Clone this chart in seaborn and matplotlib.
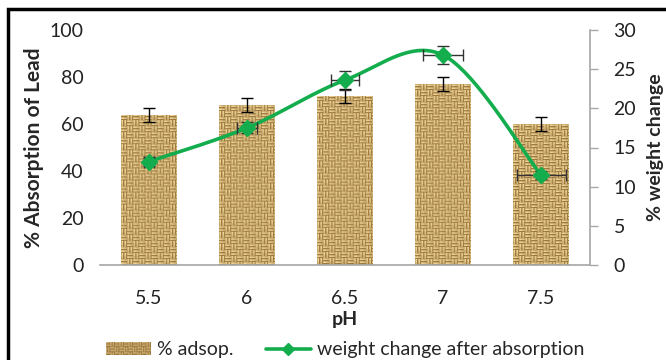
import numpy as np
import pandas as pd
import matplotlib
matplotlib.use("Agg")
import matplotlib.pyplot as plt
import seaborn as sns
from matplotlib.patches import Rectangle
from matplotlib.lines import Line2D
from matplotlib.legend_handler import HandlerBase
from matplotlib.image import BboxImage
from matplotlib.transforms import Bbox, TransformedBbox

# ---- data ----
ph = [5.5, 6.0, 6.5, 7.0, 7.5]
ph_labels = ["5.5", "6", "6.5", "7", "7.5"]
adsorption = [64, 68, 72, 77, 60]
adsorption_err = [3, 3, 3, 3, 3]
weight_change = [13.2, 17.5, 23.6, 26.8, 11.5]
weight_err_y = [0.6, 0.7, 1.2, 1.2, 0.5]
weight_err_x = [0.025, 0.05, 0.07, 0.1, 0.125]

GREEN = "#14ad4e"
AXIS_GREY = "#a6a6a6"
FS = 14

sns.set_theme(style="white")
plt.rcParams["font.family"] = ["Lato", "DejaVu Sans"]


def burlap(h, w, cell=6):
    """Basket-weave texture as an RGB array."""
    h, w = max(int(h), 2), max(int(w), 2)
    yy, xx = np.mgrid[0:h, 0:w]
    horiz = ((xx // cell + yy // cell) % 2) == 0
    s = np.where(horiz, yy % cell, xx % cell)
    along = np.where(horiz, xx % cell, yy % cell)
    shade = np.ones((h, w))
    shade[(s == cell // 2 - 1) | (s == cell - 1)] = 0.2
    shade[(s == 0) | (s == cell // 2)] = 0.72
    shade = shade * (0.85 + 0.15 * np.cos(np.pi * along / cell))
    light = np.array([240, 214, 152]) / 255.0
    dark = np.array([140, 102, 46]) / 255.0
    img = dark + (light - dark) * shade[..., None]
    return np.clip(img, 0, 1)


class TextureHandler(HandlerBase):
    def create_artists(self, legend, orig_handle, xdescent, ydescent,
                       width, height, fontsize, trans):
        bb = Bbox.from_bounds(-xdescent, -ydescent + height * 0.05, width, height * 0.9)
        img = BboxImage(TransformedBbox(bb, trans), interpolation="bilinear")
        img.set_data(burlap(10, 40, cell=4))
        return [img]


def catmull_rom(xs, ys, n=40):
    p = np.column_stack([xs, ys]).astype(float)
    p = np.vstack([p[0], p, p[-1]])
    out = []
    for i in range(1, len(p) - 2):
        p0, p1, p2, p3 = p[i - 1], p[i], p[i + 1], p[i + 2]
        m1 = (p2 - p0) / 2.0
        m2 = (p3 - p1) / 2.0
        t = np.linspace(0, 1, n)[:, None]
        h00 = 2 * t**3 - 3 * t**2 + 1
        h10 = t**3 - 2 * t**2 + t
        h01 = -2 * t**3 + 3 * t**2
        h11 = t**3 - t**2
        out.append(h00 * p1 + h10 * m1 + h01 * p2 + h11 * m2)
    c = np.vstack(out)
    return c[:, 0], c[:, 1]


fig = plt.figure(figsize=(6.66, 3.6), dpi=100)
ax = fig.add_axes([100 / 666, 1 - 265 / 360, 490 / 666, 235 / 360])

df = pd.DataFrame({"pH": ph, "adsorption": adsorption})
sns.barplot(data=df, x="pH", y="adsorption", native_scale=True, width=0.57,
            color="#d8c08a", saturation=1, errorbar=None, ax=ax, zorder=2)
ax.set_xlim(5.25, 7.75)
ax.set_ylim(0, 100)

# textured fill for each bar
for patch in list(ax.patches):
    patch.set_linewidth(0)
    x0, y0 = patch.get_x(), patch.get_y()
    x1, y1 = x0 + patch.get_width(), y0 + patch.get_height()
    (px0, py0), (px1, py1) = ax.transData.transform([(x0, y0), (x1, y1)])
    tex = burlap(abs(py1 - py0), abs(px1 - px0))
    im = ax.imshow(tex, extent=[x0, x1, y0, y1], aspect="auto",
                   interpolation="bilinear", zorder=2.5, origin="upper")
    im.set_clip_path(patch)

ax.errorbar(ph, adsorption, yerr=adsorption_err, fmt="none", ecolor="black",
            elinewidth=1, capsize=4, capthick=1, zorder=3)

ax.set_xlim(5.25, 7.75)
ax.set_ylim(0, 100)
ax.set_yticks(range(0, 101, 20))
ax.set_xticks(ph)
ax.set_xticklabels(ph_labels)
ax.tick_params(axis="both", length=0, labelsize=FS, colors="#222222")
ax.tick_params(axis="y", pad=12)
ax.tick_params(axis="x", pad=18)
ax.set_xlabel("pH", fontsize=FS, fontweight="bold", labelpad=3)
ax.set_ylabel("% Absorption of Lead", fontsize=15, fontweight="bold", labelpad=4)
for side in ["left", "top", "right"]:
    ax.spines[side].set_visible(False)
ax.spines["bottom"].set_color(AXIS_GREY)
ax.spines["bottom"].set_linewidth(1.2)

# secondary axis: weight change
ax2 = ax.twinx()
ax2.set_ylim(0, 30)
ax2.set_yticks(range(0, 31, 5))
sx, sy = catmull_rom(ph, weight_change)
sns.lineplot(x=sx, y=sy, color=GREEN, linewidth=2.6, sort=False,
             estimator=None, ax=ax2, zorder=4)
ax2.errorbar(ph, weight_change, xerr=weight_err_x, yerr=weight_err_y,
             fmt="D", color=GREEN, markersize=8, ecolor="#333333",
             elinewidth=1, capsize=4, capthick=1, zorder=5)
ax2.set_xlim(5.25, 7.75)
ax2.set_ylim(0, 30)
for side in ["left", "top", "bottom"]:
    ax2.spines[side].set_visible(False)
ax2.spines["right"].set_color(AXIS_GREY)
ax2.spines["right"].set_linewidth(1.2)
ax2.tick_params(axis="y", length=6, width=1, color=AXIS_GREY, direction="out",
                labelsize=FS, colors="#222222", pad=11)
ax2.tick_params(axis="y", color=AXIS_GREY)
ax2.set_ylabel("% weight change", fontsize=FS, fontweight="bold", labelpad=8)
ax2.grid(False)
ax.grid(False)

# legend
bar_handle = Rectangle((0, 0), 1, 1)
line_handle = Line2D([], [], color=GREEN, linewidth=2.6, marker="D", markersize=6)
fig.legend([bar_handle, line_handle], ["% adsop.", "weight change after absorption"],
           handler_map={Rectangle: TextureHandler()},
           loc="center", bbox_to_anchor=(345 / 666, 1 - 350 / 360), ncol=2,
           frameon=False, fontsize=FS, handlelength=2.3, handletextpad=0.3,
           columnspacing=1.7, borderpad=0)

# chart-area frame
fig.patches.append(Rectangle((8 / 666, -0.2), 1.5, 1.2 - 8.5 / 360,
                             transform=fig.transFigure, fill=False,
                             edgecolor="black", linewidth=2.5, zorder=10))

fig.savefig("out.png", dpi=100)
